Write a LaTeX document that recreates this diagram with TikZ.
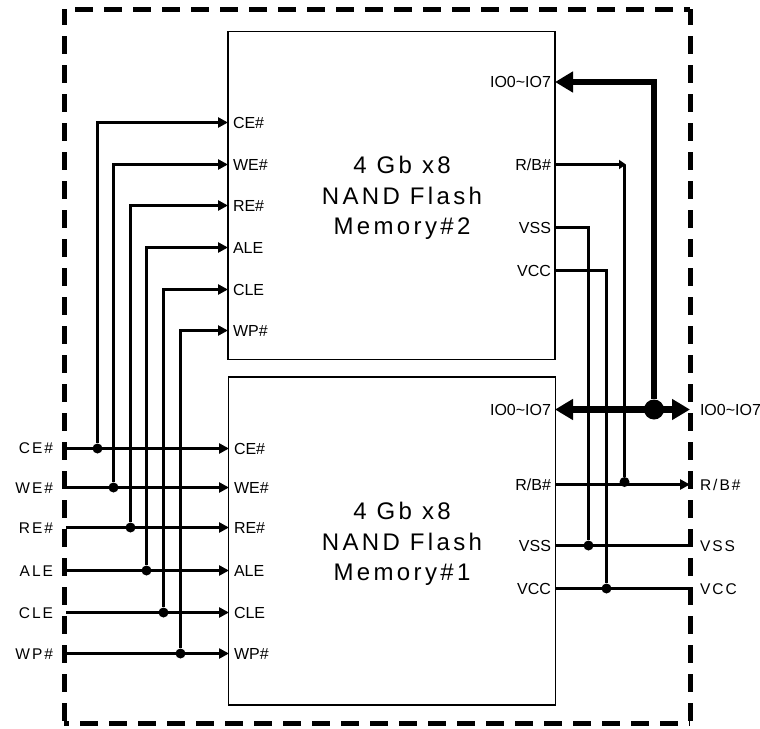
\documentclass[tikz,border=0pt]{standalone}
\usepackage{fontspec}
\setmainfont{Liberation Sans}
\newfontfamily\widefont[LetterSpace=14]{Liberation Sans}
\newfontfamily\spacedfont[LetterSpace=13]{Liberation Sans}
\usetikzlibrary{arrows.meta}

\begin{document}
\begin{tikzpicture}[x=1pt, y=-1pt,
  chip/.style    = {rectangle, draw, line width=1.6pt, minimum width=327pt, minimum height=328pt, inner sep=0pt, outer sep=0pt},
  title/.style   = {align=center, inner sep=0pt, font=\fontsize{24}{30.5}\selectfont\widefont},
  frame/.style   = {rectangle, minimum width=626pt, minimum height=714pt, outer sep=0pt},
  edge/.style    = {line width=5pt, dash pattern=on 18pt off 11pt},
  pinleft/.style = {anchor=west , inner xsep=5pt, inner ysep=0pt, outer sep=0pt, text height=11pt, text depth=0pt, font=\fontsize{16}{16}\selectfont},
  pinright/.style= {anchor=east , inner xsep=4pt, inner ysep=0pt, outer sep=0pt, text height=11pt, text depth=0pt, font=\fontsize{16}{16}\selectfont},
  extleft/.style = {anchor=east , inner xsep=13pt, inner ysep=0pt, outer sep=0pt, text height=11pt, text depth=0pt, font=\fontsize{15.5}{16}\selectfont\spacedfont},
  extright/.style= {anchor=west , inner xsep=10pt, inner ysep=0pt, outer sep=0pt, text height=11pt, text depth=0pt, font=\fontsize{15.5}{16}\selectfont\spacedfont},
  sdot/.style    = {circle, fill, minimum size=10pt, inner sep=0pt},
  bdot/.style    = {circle, fill, minimum size=20pt, inner sep=0pt},
  sig/.style     = {line width=3pt},
  sigin/.style   = {line width=3pt, -{Triangle[length=10pt,width=10pt]}},
  bus/.style     = {line width=6.5pt},
  ]
  \useasboundingbox (0,0) rectangle (760,728);
  \node[frame] (frame) at (377,366) {};
  \draw[edge, dash phase=18pt] (frame.north west) -- (frame.north east);
  \draw[edge, dash phase=13pt] (frame.south west) -- (frame.south east);
  \draw[edge, dash phase=2pt] (frame.north west) -- (frame.south west);
  \draw[edge, dash phase=2pt] (frame.north east) -- (frame.south east);
  \node[chip] (mem2) at (391.5,195.5) {};
  \node[chip] (mem1) at (392,541) {};
  \node[title] (name2) at (402,198) {4 Gb x8\\NAND Flash\\Memory\#2};
  \node[title] (name1) at (402,544) {4 Gb x8\\NAND Flash\\Memory\#1};
  % pins of memory 2
  \node[pinleft] (ce2)  at (228,122.5) {CE\#};
  \node[pinleft] (we2)  at (228,164.5) {WE\#};
  \node[pinleft] (re2)  at (228,205.5) {RE\#};
  \node[pinleft] (ale2) at (228,247.5) {ALE};
  \node[pinleft] (cle2) at (228,289.5) {CLE};
  \node[pinleft] (wp2)  at (228,330.5) {WP\#};
  \node[pinright] (io2)  at (555,82)  {IO0\textasciitilde IO7};
  \node[pinright] (rb2)  at (555,164.5) {R/B\#};
  \node[pinright] (vss2) at (555,227.5) {VSS};
  \node[pinright] (vcc2) at (555,270.5) {VCC};
  % pins of memory 1
  \node[pinleft] (ce1)  at (229,448.5) {CE\#};
  \node[pinleft] (we1)  at (229,487.5) {WE\#};
  \node[pinleft] (re1)  at (229,527.5) {RE\#};
  \node[pinleft] (ale1) at (229,570.5) {ALE};
  \node[pinleft] (cle1) at (229,612.5) {CLE};
  \node[pinleft] (wp1)  at (229,653.5) {WP\#};
  \node[pinright] (io1)  at (555,409.5) {IO0\textasciitilde IO7};
  \node[pinright] (rb1)  at (555,484.5) {R/B\#};
  \node[pinright] (vss1) at (555,545.5) {VSS};
  \node[pinright] (vcc1) at (555,588.5) {VCC};
  % outside labels
  \node[extleft] (ce)  at (66,447.5) {CE\#};
  \node[extleft] (we)  at (66,487.5) {WE\#};
  \node[extleft] (re)  at (66,527.5) {RE\#};
  \node[extleft] (ale) at (66,570.5) {ALE};
  \node[extleft] (cle) at (66,612.5) {CLE};
  \node[extleft] (wp)  at (66,653.5) {WP\#};
  \node[extright, font=\fontsize{16}{16}\selectfont] (io)  at (690,409.5) {IO0\textasciitilde IO7};
  \node[extright] (rb)  at (690,484.5) {R/B\#};
  \node[extright] (vss) at (690,545.5) {VSS};
  \node[extright] (vcc) at (690,588.5) {VCC};
  % junctions
  \node[sdot] (dce)  at (97.5,448.5)  {};
  \node[sdot] (dwe)  at (113.5,487.5) {};
  \node[sdot] (dre)  at (130.5,527.5) {};
  \node[sdot] (dale) at (146.5,570.5) {};
  \node[sdot] (dcle) at (163.5,612.5) {};
  \node[sdot] (dwp)  at (180.5,653.5) {};
  \node[sdot] (drb)  at (624.5,482)   {};
  \node[sdot] (dvss) at (588.5,545.5) {};
  \node[sdot] (dvcc) at (606.5,588.5) {};
  \node[bdot] (dio)  at (654,409.5) {};
  \coordinate (rbtop) at (626,164.5);
  % control lines
  \draw[sigin] (ce.east |- ce1.west)  -- (ce1.west);
  \draw[sigin] (we.east)  -- (we1.west);
  \draw[sigin] (re.east)  -- (re1.west);
  \draw[sigin] (ale.east) -- (ale1.west);
  \draw[sigin] (cle.east) -- (cle1.west);
  \draw[sigin] (wp.east)  -- (wp1.west);
  \draw[sigin] (dce)  |- (ce2.west);
  \draw[sigin] (dwe)  |- (we2.west);
  \draw[sigin] (dre)  |- (re2.west);
  \draw[sigin] (dale) |- (ale2.west);
  \draw[sigin] (dcle) |- (cle2.west);
  \draw[sigin] (dwp)  |- (wp2.west);
  % right side
  \draw[sig, -{Triangle[length=7pt,width=9pt]}] (rb2.east) -- (rbtop);
  \draw[sig] (drb) -- (drb |- rbtop);
  \draw[sig, -{Triangle[length=10pt,width=10pt]}] (rb1.east) -- (rb.west);
  \draw[sig] (vss2.east) -| (dvss);
  \draw[sig] (vcc2.east) -| (dvcc);
  \draw[sig] (vss1.east) -- (vss.west);
  \draw[sig] (vcc1.east) -- (vcc.west);
  \draw[bus, -{Triangle[length=18pt,width=20pt]}] (dio) |- (io2.east);
  \draw[bus, {Triangle[length=18pt,width=20pt]}-{Triangle[length=18pt,width=20pt]}] (io1.east) -- (io.west);
\end{tikzpicture}
\end{document}
